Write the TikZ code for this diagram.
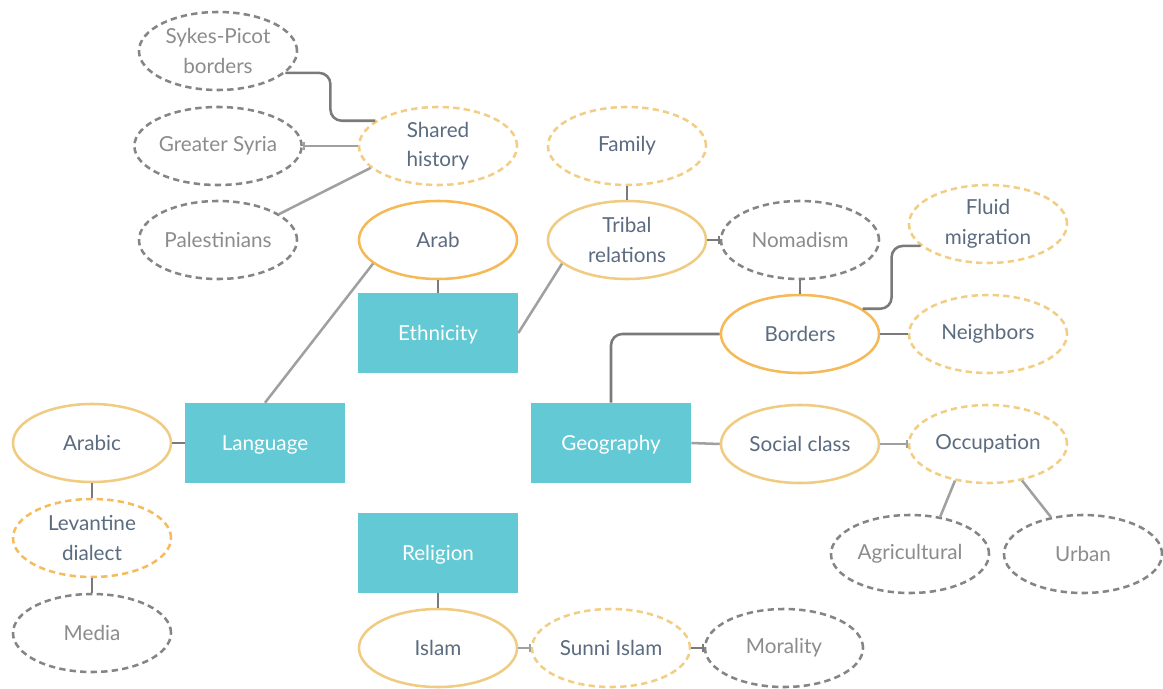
\documentclass[tikz,border=0pt]{standalone}
\usepackage{fontspec}
\setmainfont{Lato}
\usepackage{tikz}
\usetikzlibrary{arrows.meta,positioning,shapes.geometric,calc}
\usepackage{xcolor}
\definecolor{topicteal}{HTML}{62C9D5}
\definecolor{strongorange}{HTML}{F6B957}
\definecolor{softorange}{HTML}{F0CB82}
\definecolor{dashorange}{HTML}{F2CE85}
\definecolor{levorange}{HTML}{F5BC5E}
\definecolor{dashgray}{HTML}{858585}
\definecolor{slatetext}{HTML}{5B6B80}
\definecolor{graytext}{HTML}{8C8C8C}
\definecolor{linklight}{HTML}{A0A0A0}
\definecolor{linkdark}{HTML}{7A7A7A}

\begin{document}
\begin{tikzpicture}[
  x=0.025cm, y=-0.025cm,
  font=\fontsize{14.7pt}{21pt}\selectfont,
  topic/.style={
    rectangle, fill=topicteal, text=white,
    minimum width=4cm, minimum height=2cm, inner sep=0pt,
    text height=2ex, text depth=0pt
  },
  idea/.style={
    ellipse, line width=1.8pt, fill=white, text=slatetext,
    minimum width=3.95cm, minimum height=1.95cm, inner sep=0pt, align=center
  },
  strong/.style={idea, draw=strongorange},
  soft/.style={idea, draw=softorange},
  maybe/.style={idea, draw=dashorange, dash pattern=on 4.5pt off 3pt},
  aside/.style={idea, draw=dashgray, text=graytext, dash pattern=on 4.5pt off 3pt},
  link/.style={line width=1.8pt, linklight},
  tie/.style={line width=1.8pt, linkdark},
  elbow/.style={line width=1.8pt, linkdark, rounded corners=8pt},
  tick/.style={-{Bar[width=6pt,line width=1.4pt]}}
]
\useasboundingbox (0,0) rectangle (1163,689);

% Main topics
\node[topic] (ethnicity) at (438,333) {Ethnicity};
\node[topic] (language)  at (265,443) {Language};
\node[topic] (geography) at (611,443) {Geography};
\node[topic] (religion)  at (438,553) {Religion};

% Ethnicity branch
\node[strong] (arab)    at (438,240) {Arab};
\node[maybe]  (shared)  at (438,146) {Shared\\history};
\node[aside]  (sykes)   at (218,51)  {Sykes-Picot\\borders};
\node[aside]  (syria)   at (218,146) {Greater Syria};
\node[aside]  (palest)  at (218,240) {Palestinians};
\node[soft]   (tribal)  at (627,240) {Tribal\\relations};
\node[maybe]  (family)  at (627,146) {Family};
\node[aside]  (nomad)   at (800,240) {Nomadism};

% Geography branch
\node[strong] (borders) at (800,334) {Borders};
\node[maybe]  (fluid)   at (988,224) {Fluid\\migration};
\node[maybe]  (neighb)  at (988,334) {Neighbors};
\node[soft]   (social)  at (800,444) {Social class};
\node[maybe]  (occup)   at (988,444) {Occupation};
\node[aside]  (agri)    at (910,554) {Agricultural};
\node[aside]  (urban)   at (1083,554) {Urban};

% Language branch
\node[soft]   (arabic)  at (92,443) {Arabic};
\node[idea, draw=levorange, dash pattern=on 4.5pt off 3pt]
              (levant)  at (92,538) {Levantine\\dialect};
\node[aside]  (media)   at (92,633) {Media};

% Religion branch
\node[soft]   (islam)   at (438,648) {Islam};
\node[maybe]  (sunni)   at (611,648) {Sunni Islam};
\node[aside]  (moral)   at (784,648) {Morality};

% Connectors
\draw[elbow] (sykes.-18) -| ($(sykes.-18)!0.5!(shared.158)$) |- (shared.158);
\draw[link,tick] (shared.west) -- (syria.east);
\draw[link] (shared.198) -- (palest.23);
\draw[link] (arab.200) -- (language.north);
\draw[tie] (arab.south) -- (ethnicity.north);
\draw[link] (tribal.200) -- (ethnicity.east);
\draw[tie] (family.south) -- (tribal.north);
\draw[tie,tick] (tribal.east) -- (nomad.west);
\draw[tie] (nomad.south) -- (borders.north);
\draw[elbow] (borders.22) -| ($(borders.22)!0.5!(fluid.198)$) |- (fluid.198);
\draw[tie] (borders.east) -- (neighb.west);
\draw[elbow] (borders.west) -| (geography.north);
\draw[link] (geography.east) -- (social.west);
\draw[link,tick] (social.east) -- (occup.west);
\draw[link] (occup.228) -- (agri.51);
\draw[link] (occup.313) -- (urban.131);
\draw[tie] (language.west) -- (arabic.east);
\draw[tie] (arabic.south) -- (levant.north);
\draw[tie] (levant.south) -- (media.north);
\draw[tie] (religion.south) -- (islam.north);
\draw[link,tick] (islam.east) -- (sunni.west);
\draw[tie,tick] (sunni.east) -- (moral.west);

\end{tikzpicture}
\end{document}
